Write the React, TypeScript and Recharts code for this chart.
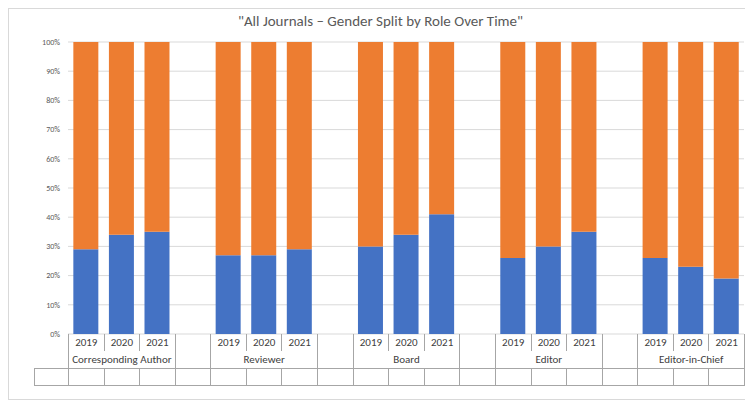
import { BarChart, Bar, XAxis, YAxis, CartesianGrid } from 'recharts';

const groups = ['Corresponding Author', 'Reviewer', 'Board', 'Editor', 'Editor-in-Chief'];
const years = ['2019', '2020', '2021'];
const female = [
  [29, 34, 35],
  [27, 27, 29],
  [30, 34, 41],
  [26, 30, 35],
  [26, 23, 19],
];
const male = [
  [71, 66, 65],
  [73, 73, 71],
  [70, 66, 59],
  [74, 70, 65],
  [74, 77, 81],
];
const yTicks = [0, 10, 20, 30, 40, 50, 60, 70, 80, 90, 100];

// 19 slots: 3 years per group plus an empty slot between groups
const slots: { key: string; year: string; female?: number; male?: number; g: number }[] = [];
groups.forEach((g, gi) => {
  years.forEach((y, yi) => slots.push({ key: `${gi}-${y}`, year: y, female: female[gi][yi], male: male[gi][yi], g: gi }));
  if (gi < groups.length - 1) slots.push({ key: `gap${gi}`, year: '', g: -1 });
});

const W = 745;
const PLOT_L = 59;
const PLOT_W = 676;
const SLOT = PLOT_W / slots.length;
const font = 'Calibri, Carlito, "Liberation Sans", Arial, sans-serif';
const line = '1px solid #a6a6a6';

export default function App() {
  const cell = (text: string, w: number, extra: any = {}) => (
    <div style={{ width: w, height: 17, lineHeight: '17px', textAlign: 'center', boxSizing: 'border-box', borderLeft: line, borderBottom: line, overflow: 'hidden', whiteSpace: 'nowrap', ...extra }}>{text}</div>
  );
  const row = (values: (s: typeof slots[0]) => string) => (
    <div style={{ display: 'flex' }}>
      {slots.map(s => cell(values(s), SLOT, { key: s.key }))}
      <div style={{ width: 0, borderLeft: line }} />
    </div>
  );
  return (
    <div style={{ position: 'relative', width: W, height: 392, border: '1px solid #d9d9d9', boxSizing: 'border-box', fontFamily: font, background: '#fff' }}>
      <div style={{ position: 'absolute', top: 3, width: '100%', textAlign: 'center', fontSize: 15, color: '#595959' }}>
        "All Journals – Gender Split by Role Over Time"
      </div>
      <BarChart width={W - 2} height={335} data={slots} margin={{ top: 33, right: 8, left: 19, bottom: 10 }} barCategoryGap="15%">
        <CartesianGrid vertical={false} stroke="#d9d9d9" />
        <XAxis dataKey="key" hide />
        <YAxis domain={[0, 100]} ticks={yTicks} tickFormatter={(v: number) => `${v}%`} width={40} axisLine={false} tickLine={false} tick={{ fontSize: 8, fill: '#595959' }} />
        <Bar dataKey="female" stackId="a" fill="#4472C4" isAnimationActive={false} />
        <Bar dataKey="male" stackId="a" fill="#ED7D31" isAnimationActive={false} />
      </BarChart>
      <div style={{ position: 'absolute', top: 325, left: 25, fontSize: 11, color: '#404040' }}>
        <div style={{ display: 'flex', marginLeft: PLOT_L - 25 }}>
          {slots.map(s => cell(s.year, SLOT, { key: s.key, borderBottom: 'none' }))}
          <div style={{ width: 0, borderLeft: line }} />
        </div>
        <div style={{ display: 'flex', marginLeft: PLOT_L - 25 }}>
          {groups.map((g, gi) => (
            <div key={g} style={{ display: 'flex' }}>
              {cell(g, SLOT * 3, { borderBottom: 'none' })}
              {gi < groups.length - 1 && cell('', SLOT, { borderBottom: 'none' })}
            </div>
          ))}
          <div style={{ width: 0, borderLeft: line }} />
        </div>
        <div style={{ display: 'flex', borderTop: line }}>
          {cell('', PLOT_L - 25, { textAlign: 'left', paddingLeft: 3, borderBottom: line })}
          {row(() => '')}
        </div>
      </div>
    </div>
  );
}
